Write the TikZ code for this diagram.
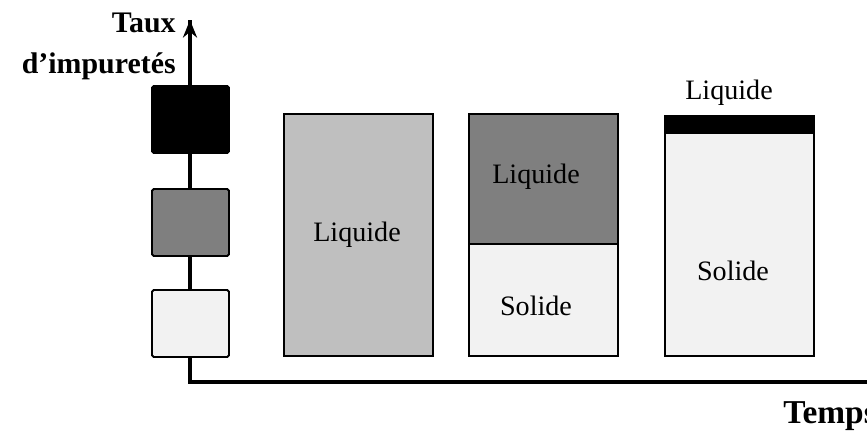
\documentclass[tikz,border=0pt]{standalone}
\usepackage{fontspec}
\setmainfont{Liberation Serif}
\usetikzlibrary{arrows.meta,positioning}
\definecolor{darkfill}{HTML}{7F7F7F}
\definecolor{midfill}{HTML}{BFBFBF}
\definecolor{lightfill}{HTML}{F2F2F2}
\tikzset{every node/.style={font=\fontsize{16}{19}\selectfont}, % Size of all labels
        title/.style={font=\fontsize{17}{20}\selectfont\bfseries, inner sep=0pt}, % Axis names
        axis/.style={draw, line width=1.8pt}, % Both axes
        square/.style={ % Small squares on the vertical axis
            draw, line width=1.1pt, rounded corners=1pt, inner sep=0pt,
            minimum width=1.54cm, minimum height=1.34cm},
        box/.style={ % Parts of the big boxes
            draw, line width=1.1pt, inner sep=0pt, minimum width=2.98cm}
        }
\begin{document}
\begin{tikzpicture}[x=0.02cm, y=-0.02cm]
    \clip (0,0) rectangle (867,435);

    \coordinate (o)    at (190,382);
    \coordinate (ytip) at (190,20);
    \coordinate (xend) at (880,382);
    \draw[axis, line join=miter] (xend) -- (o) -- (ytip);
    \draw[axis, -{Stealth[length=10pt,width=8pt]}] (o) -- (ytip);

    \node[title, anchor=east] (taux) at (176,23) {Taux};
    \node[title, anchor=east] (imp)  at (176,66) {d’impuretés};
    \node[title, anchor=west, font=\fontsize{19}{22}\selectfont\bfseries] (temps) at (783,416) {Temps};

    \node[square, fill=black]     (high) at (190.5,119.5) {};
    \node[square, fill=darkfill]  (mid)  at (190.5,222.5) {};
    \node[square, fill=lightfill] (low)  at (190.5,323.5) {};

    \node[box, fill=midfill, minimum height=4.84cm] (liq1) at (358.5,235) {};
    \node at (357,235) {Liquide};

    \node[box, fill=darkfill, minimum height=2.6cm]   (liq2) at (543.5,179) {};
    \node[box, fill=lightfill, minimum height=2.24cm] (sol2) at (543.5,300) {};
    \node at (536,177) {Liquide};
    \node at (536,306) {Solide};

    \node[box, fill=black, minimum height=0.34cm]     (liq3) at (739.5,124.5) {};
    \node[box, fill=lightfill, minimum height=4.46cm] (sol3) at (739.5,244.5) {};
    \node at (729,93)  {Liquide};
    \node at (733,271) {Solide};
\end{tikzpicture}
\end{document}
